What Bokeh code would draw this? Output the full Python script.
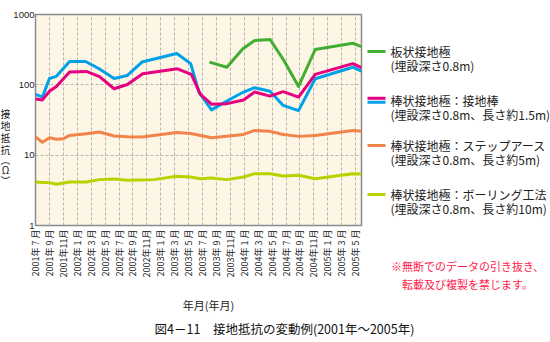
import math
from bokeh.plotting import figure
from bokeh.models import FixedTicker, Range1d
from bokeh.layouts import row, column
from bokeh.core.properties import value
from bokeh.embed import file_html
from bokeh.resources import INLINE

# ---------------- data (x = months since 2001年7月) ----------------
tick_months = list(range(0, 47, 2))
tick_labels = [
    "2001年 7 月", "2001年 9 月", "2001年11月",
    "2002年 1 月", "2002年 3 月", "2002年 5 月", "2002年 7 月", "2002年 9 月", "2002年11月",
    "2003年 1 月", "2003年 3 月", "2003年 5 月", "2003年 7 月", "2003年 9 月", "2003年11月",
    "2004年 1 月", "2004年 3 月", "2004年 5 月", "2004年 7 月", "2004年 9 月", "2004年11月",
    "2005年 1 月", "2005年 3 月", "2005年 5 月",
]
y_ticks = [1, 10, 100, 1000]

plate_x = [25.0, 27.5, 29.8, 31.5, 33.7, 35.7, 37.8, 40.2, 45.6, 46.85]
plate_y = [210, 178, 326, 427, 442, 222, 95, 318, 390, 350]

rod_m_x = [0, 1, 2, 3, 4.9, 7.3, 9.2, 11.3, 13.2, 15.4, 20.4, 22.4, 23.7, 25.3, 27.5,
           29.9, 31.5, 33.7, 35.6, 37.8, 40.2, 45.6, 46.85]
rod_m_y = [63, 61, 81, 95, 152, 155, 131, 88, 101, 144, 169, 141, 73, 53, 54,
           61, 79, 69, 80, 67, 141, 200, 175]

rod_b_x = [0, 1, 2, 3, 4.9, 7.2, 9.2, 11.3, 13.2, 15.3, 20.3, 22.3, 23.5, 25.3, 27.5,
           29.9, 31.5, 33.7, 35.6, 37.8, 40.2, 45.6, 46.85]
rod_b_y = [73, 67, 123, 132, 215, 215, 168, 123, 136, 211, 279, 200, 78, 44, 59,
           79, 91, 81, 51, 43, 122, 178, 157]

step_x = [0, 1, 2, 3, 4, 4.9, 7.3, 9.2, 11.3, 13.2, 15.3, 20.3, 22.3, 23.7, 25.3, 27.5,
          29.9, 31.5, 33.7, 35.6, 37.8, 40.2, 45.6, 46.85]
step_y = [18.1, 15.3, 17.7, 16.8, 17.1, 19.1, 20.2, 21.3, 18.7, 18.3, 18.1, 21.0, 20.3, 19.0, 17.7, 18.6,
          19.7, 22.5, 21.8, 19.7, 18.5, 19.1, 22.5, 21.8]

bore_x = [0, 1, 2, 3, 4.9, 7.3, 9.2, 11.3, 13.2, 15.3, 17, 20.3, 22.3, 23.7, 25.3, 27.5,
          29.9, 31.5, 33.7, 35.6, 37.8, 40.2, 45.6, 46.85]
bore_y = [4.15, 4.1, 4.07, 3.85, 4.15, 4.15, 4.49, 4.58, 4.39, 4.45, 4.49, 5.0, 4.89, 4.63, 4.73, 4.49,
          4.89, 5.46, 5.46, 5.05, 5.17, 4.63, 5.46, 5.4]

legend_line1 = ["板状接地極", "棒状接地極：接地棒", "棒状接地極：ステップアース", "棒状接地極：ボーリング工法"]
legend_line2 = ["(埋設深さ0.8m)", "(埋設深さ0.8m、長さ約1.5m)", "(埋設深さ0.8m、長さ約5m)", "(埋設深さ0.8m、長さ約10m)"]
notice_lines = ["※無断でのデータの引き抜き、", "転載及び複製を禁じます。"]
y_title_chars = ["接", "地", "抵", "抗", "︵", "Ω", "︶"]
x_title = "年月(年月)"
caption = "図4－11　接地抵抗の変動例(2001年～2005年)"

GREEN = "#41ae32"
MAGENTA = "#e5007f"
BLUE = "#00a0e9"
ORANGE = "#f0844a"
YGREEN = "#b8d200"
legend_colors = [[GREEN], [MAGENTA, BLUE], [ORANGE], [YGREEN]]

FONT = "Noto Sans CJK JP"
TXT = "#222222"

# ---------------- main chart ----------------
TOP_H = 296
p = figure(width=355, height=TOP_H, y_axis_type="log",
           x_range=Range1d(0, 46.85), y_range=Range1d(1, 1000),
           output_backend="svg", toolbar_location=None,
           min_border_left=22, min_border_right=4,
           min_border_top=14, min_border_bottom=71)
p.frame_align = False
p.background_fill_color = "#fdf6e4"
p.border_fill_color = "white"
p.outline_line_color = "#8a8a8a"
p.outline_line_width = 1.5

p.xaxis.ticker = FixedTicker(ticks=tick_months)
p.xaxis.major_label_overrides = {m: lab for m, lab in zip(tick_months, tick_labels)}
p.xaxis.major_label_orientation = math.pi / 2
p.xaxis.major_label_text_font = FONT
p.xaxis.major_label_text_font_size = "9px"
p.xaxis.major_label_text_color = TXT
p.xaxis.major_label_standoff = 4

p.yaxis.ticker = FixedTicker(ticks=y_ticks)
p.yaxis.major_label_overrides = {t: str(t) for t in y_ticks}
p.yaxis.major_label_text_font = "Liberation Sans"
p.yaxis.major_label_text_font_size = "9.5px"
p.yaxis.major_label_text_color = TXT
p.yaxis.major_label_standoff = 1

for ax in (p.xaxis, p.yaxis):
    ax.axis_line_color = None
    ax.major_tick_line_color = None
    ax.minor_tick_line_color = None
    ax.major_tick_out = 0
    ax.major_tick_in = 0
    ax.minor_tick_out = 0
    ax.minor_tick_in = 0

p.xgrid.ticker = FixedTicker(ticks=tick_months)
p.ygrid.ticker = FixedTicker(ticks=y_ticks)
for g in (p.xgrid, p.ygrid):
    g.grid_line_color = "#b5b5b5"
    g.grid_line_dash = "3 2"
    g.grid_line_width = 1

LW = 3
p.line(step_x, step_y, color=ORANGE, line_width=LW, line_join="round")
p.line(bore_x, bore_y, color=YGREEN, line_width=LW, line_join="round")
p.line(rod_b_x, rod_b_y, color=BLUE, line_width=LW, line_join="round")
p.line(rod_m_x, rod_m_y, color=MAGENTA, line_width=LW, line_join="round")
p.line(plate_x, plate_y, color=GREEN, line_width=LW, line_join="round")


# ---------------- helper canvases for texts outside the plot frame ----------------
def blank(w, h):
    f = figure(width=w, height=h, x_range=Range1d(0, w), y_range=Range1d(0, h),
               output_backend="svg", toolbar_location=None, min_border=0,
               x_axis_type=None, y_axis_type=None)
    f.frame_align = False
    f.outline_line_color = None
    f.background_fill_color = "white"
    f.border_fill_color = "white"
    f.xgrid.visible = False
    f.ygrid.visible = False
    return f


def put(f, h, xs, ys_top, texts, size, color=TXT, align="left"):
    f.text(x=xs, y=[h - y for y in ys_top], text=texts,
           text_font=value(FONT), text_font_size=value(size), text_color=color,
           text_align=align, text_baseline="middle")


# left strip: y axis title (stacked vertical)
YW = 10
yfig = blank(YW, TOP_H)
put(yfig, TOP_H, [5] * len(y_title_chars), [113, 125, 137, 149, 159, 169, 180],
    y_title_chars, "10px", align="center")

# right strip: legend + notice
SW = 550 - YW - 355
SX0 = YW + 355
side = blank(SW, TOP_H)
leg_y = [51, 100, 145, 194]
for i in range(len(legend_line1)):
    cols = legend_colors[i]
    base = leg_y[i]
    offs = [0] if len(cols) == 1 else [-2.2, 1.8]
    for c, o in zip(cols, offs):
        yy = TOP_H - (base + o)
        side.line([367 - SX0, 385 - SX0], [yy, yy], color=c, line_width=3)
put(side, TOP_H, [390 - SX0] * 4, leg_y, legend_line1, "12px")
put(side, TOP_H, [390 - SX0] * 4, [y + 14 for y in leg_y], legend_line2, "12px")
put(side, TOP_H, [467 - SX0] * 2, [265, 283], notice_lines, "11px", color="#ff1a4a", align="center")

# bottom strip: x axis title + caption
BH = 342 - TOP_H
bottom = blank(550, BH)
put(bottom, BH, [208], [304 - TOP_H], [x_title], "11px", align="center")
put(bottom, BH, [284], [328 - TOP_H], [caption], "12.5px", color="#111111", align="center")

layout = column(row(yfig, p, side, spacing=0), bottom, spacing=0)
open("out.html", "w").write(file_html(layout, INLINE))
